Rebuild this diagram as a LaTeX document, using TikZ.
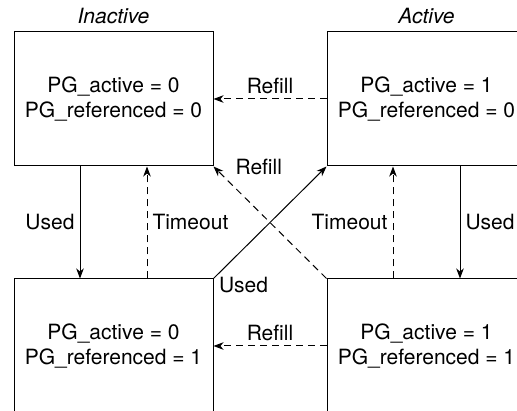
\documentclass[tikz,border=0pt]{standalone}
\usepackage{fontspec}
\setmainfont{TeX Gyre Heros}
\usetikzlibrary{arrows.meta, positioning, calc}
\tikzset{
  pg state/.style={
    rectangle, draw=black, line width=1pt,
    minimum width=199pt, minimum height=134pt,
    align=center, font=\fontsize{21}{25}\selectfont,
    inner sep=2pt
  },
  pg title/.style={
    font=\fontsize{21}{25}\selectfont\itshape, inner sep=2pt
  },
  pg used/.style={
    -{Stealth[length=10pt, width=7.5pt, inset=3pt]}, line width=1pt
  },
  pg idle/.style={
    pg used, dash pattern=on 7pt off 5pt
  },
  pg label/.style={
    font=\fontsize{21}{25}\selectfont, inner sep=5pt
  }
}

\begin{document}
\begin{tikzpicture}[node distance=112pt and 113pt]
  \clip (0,0) rectangle (517pt,-411pt);

  \node (s00) [pg state] at (113.5pt,-99pt) {PG\_active = 0\\PG\_referenced = 0};
  \node (s10) [pg state, right=of s00] {PG\_active = 1\\PG\_referenced = 0};
  \node (s01) [pg state, below=of s00] {PG\_active = 0\\PG\_referenced = 1};
  \node (s11) [pg state, below=of s10] {PG\_active = 1\\PG\_referenced = 1};

  \node (t0) [pg title, above=5pt of s00] {Inactive};
  \node (t1) [pg title, above=5pt of s10] {Active};

  \draw [pg used] ([xshift=-33.5pt]s00.south) -- node [pg label, left] {Used} ([xshift=-33.5pt]s01.north);
  \draw [pg idle] ([xshift=33.5pt]s01.north) -- node [pg label, right] {Timeout} ([xshift=33.5pt]s00.south);
  \draw [pg idle] ([xshift=-33.5pt]s11.north) -- node [pg label, left] {Timeout} ([xshift=-33.5pt]s10.south);
  \draw [pg used] ([xshift=33.5pt]s10.south) -- node [pg label, right] {Used} ([xshift=33.5pt]s11.north);
  \draw [pg idle] (s10) -- node [pg label, above] {Refill} (s00);
  \draw [pg idle] (s11) -- node [pg label, above] {Refill} (s01);
  \draw [pg idle] (s11.north west) -- node [pg label, pos=0.88, anchor=south west, xshift=3pt] {Refill} (s00.south east);
  \draw [pg used] (s01.north east) -- node [pg label, pos=0, anchor=north west, inner sep=1pt, xshift=4pt, yshift=3pt] {Used} (s10.south west);
\end{tikzpicture}
\end{document}
